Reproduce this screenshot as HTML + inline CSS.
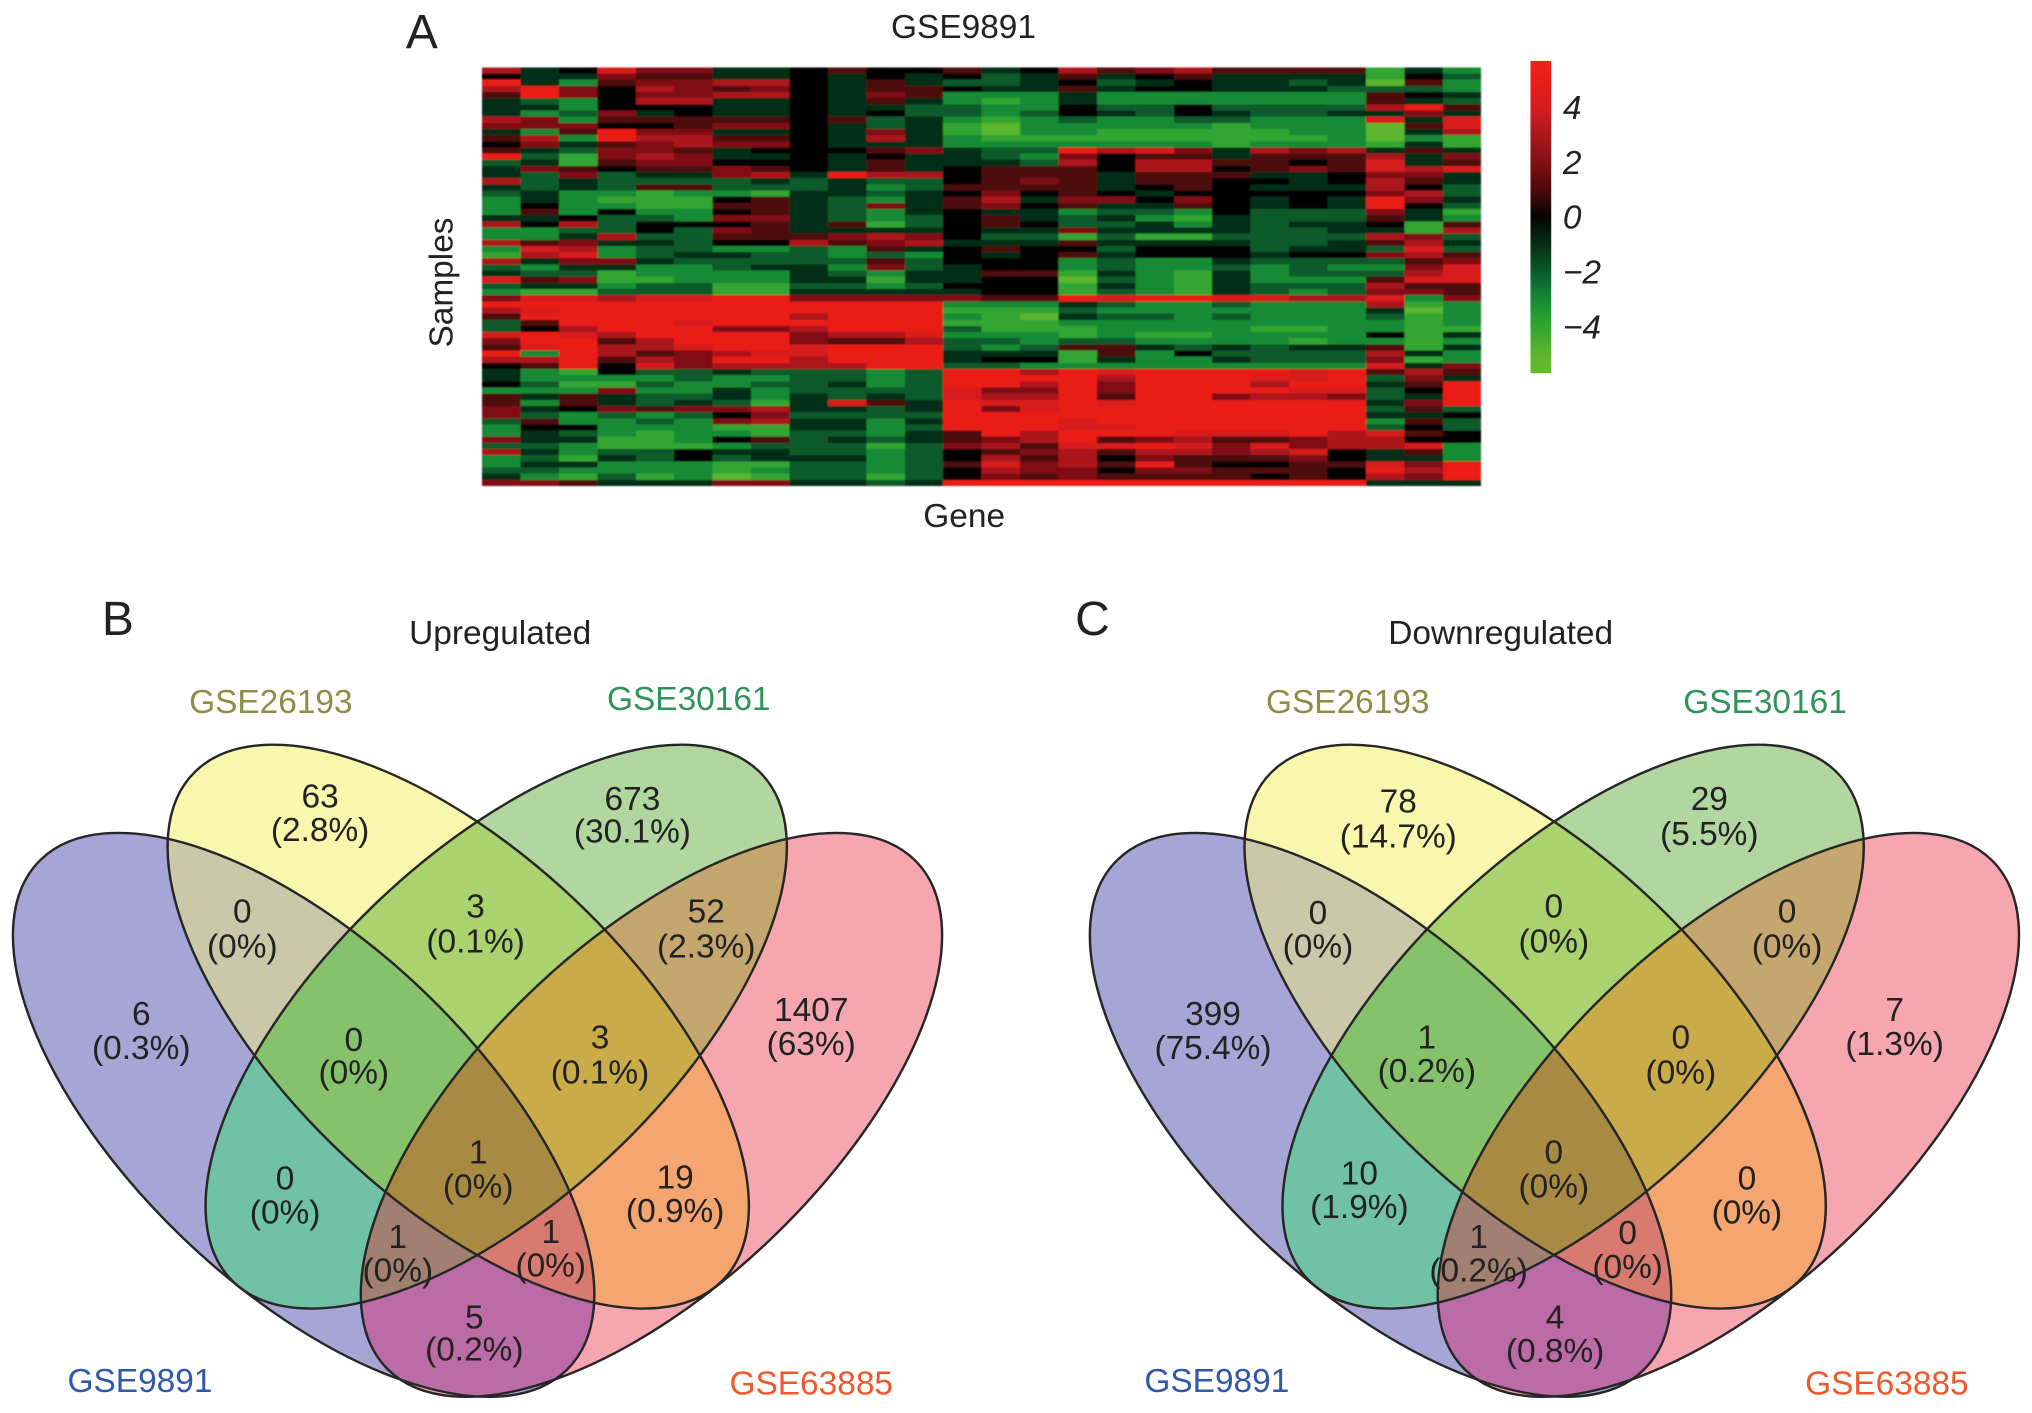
<!DOCTYPE html>
<html lang="en">
<head>
<meta charset="utf-8">
<title>GSE9891 heatmap and Venn diagrams</title>
<style>
html,body{margin:0;padding:0;background:#fff;width:2032px;height:1413px;overflow:hidden;}
svg{display:block;position:absolute;left:0;top:0;overflow:hidden;}
text{font-family:"Liberation Sans",Arial,sans-serif;}
</style>
</head>
<body>
<svg id="figure" xmlns="http://www.w3.org/2000/svg" width="2032" height="1413" viewBox="0 0 1568 1090.33">
<defs>
  <filter id="soften" x="-2%" y="-2%" width="104%" height="104%"><feGaussianBlur stdDeviation="0.55"/></filter>
  <path id="e-blue" transform="scale(1,0.97)" d="M31.36 683.97A287 135 45 1 1 437.24 1089.85A287 135 45 1 1 31.36 683.97Z"/>
  <path id="e-yellow" transform="scale(1,0.97)" d="M150.66 613.76A287 135 45 1 1 556.54 1019.64A287 135 45 1 1 150.66 613.76Z"/>
  <path id="e-green" transform="scale(1,0.97)" d="M179.96 1019.64A287 135 -45 1 1 585.84 613.76A287 135 -45 1 1 179.96 1019.64Z"/>
  <path id="e-red" transform="scale(1,0.97)" d="M299.76 1089.85A287 135 -45 1 1 705.64 683.97A287 135 -45 1 1 299.76 1089.85Z"/>
  <clipPath id="c-b"><use href="#e-blue"/></clipPath>
  <clipPath id="c-y"><use href="#e-yellow"/></clipPath>
  <clipPath id="c-g"><use href="#e-green"/></clipPath>
  <clipPath id="c-by" clip-path="url(#c-b)"><use href="#e-yellow"/></clipPath>
  <clipPath id="c-bg" clip-path="url(#c-b)"><use href="#e-green"/></clipPath>
  <clipPath id="c-yg" clip-path="url(#c-y)"><use href="#e-green"/></clipPath>
  <clipPath id="c-byg" clip-path="url(#c-by)"><use href="#e-green"/></clipPath>
  <g id="venn-shapes">
    <use href="#e-blue" fill="#a6a6d6"/>
    <use href="#e-yellow" fill="#f9f6ad"/>
    <use href="#e-green" fill="#b2d6a0"/>
    <use href="#e-red" fill="#f5a6ae"/>
    <use href="#e-yellow" fill="#cbc8aa" clip-path="url(#c-b)"/>
    <use href="#e-green" fill="#70c1a5" clip-path="url(#c-b)"/>
    <use href="#e-red" fill="#bb6ba6" clip-path="url(#c-b)"/>
    <use href="#e-green" fill="#aad26f" clip-path="url(#c-y)"/>
    <use href="#e-red" fill="#f4a570" clip-path="url(#c-y)"/>
    <use href="#e-red" fill="#c5a66e" clip-path="url(#c-g)"/>
    <use href="#e-green" fill="#86c16b" clip-path="url(#c-by)"/>
    <use href="#e-red" fill="#d87a70" clip-path="url(#c-by)"/>
    <use href="#e-red" fill="#a18071" clip-path="url(#c-bg)"/>
    <use href="#e-red" fill="#c9ab4a" clip-path="url(#c-yg)"/>
    <use href="#e-red" fill="#a98a43" clip-path="url(#c-byg)"/>
    <g fill="none" stroke="#262626" stroke-width="1.9">
      <use href="#e-blue"/><use href="#e-yellow"/><use href="#e-green"/><use href="#e-red"/>
    </g>
  </g>
</defs>

<!-- Panel A -->
<g id="panel-a" fill="#222">
  <text x="325.5" y="37" font-size="37" text-anchor="middle">A</text>
  <text x="743.5" y="29.5" font-size="25.8" text-anchor="middle">GSE9891</text>
  <text x="744" y="406.5" font-size="25.8" text-anchor="middle">Gene</text>
  <text transform="translate(349,218) rotate(-90)" font-size="25.8" text-anchor="middle">Samples</text>
  <g id="heatmap-cells" filter="url(#soften)"></g>
  <g id="colorbar"></g>
</g>

<!-- Panel B -->
<g id="panel-b">
  <use href="#venn-shapes"/>
  <g fill="#222" text-anchor="middle" font-size="25.8" transform="translate(0,9)">
    <text x="91" y="481" font-size="37">B</text>
    <text x="386" y="488">Upregulated</text>
    <text x="209" y="541" fill="#8b8f45">GSE26193</text>
    <text x="531.5" y="539" fill="#2e9358">GSE30161</text>
    <text x="108" y="1065" fill="#3058a8">GSE9891</text>
    <text x="626" y="1067" fill="#f0582c">GSE63885</text>
    <g><text x="247" y="614">63</text><text x="247" y="640">(2.8%)</text></g>
    <g><text x="488" y="616">673</text><text x="488" y="641">(30.1%)</text></g>
    <g><text x="187" y="703">0</text><text x="187" y="730">(0%)</text></g>
    <g><text x="367" y="699">3</text><text x="367" y="726">(0.1%)</text></g>
    <g><text x="545" y="703">52</text><text x="545" y="730">(2.3%)</text></g>
    <g><text x="109" y="782">6</text><text x="109" y="808">(0.3%)</text></g>
    <g><text x="273" y="802">0</text><text x="273" y="827">(0%)</text></g>
    <g><text x="463" y="800">3</text><text x="463" y="827">(0.1%)</text></g>
    <g><text x="626" y="779">1407</text><text x="626" y="805">(63%)</text></g>
    <g><text x="369" y="889">1</text><text x="369" y="915">(0%)</text></g>
    <g><text x="220" y="909">0</text><text x="220" y="935">(0%)</text></g>
    <g><text x="521" y="908">19</text><text x="521" y="934">(0.9%)</text></g>
    <g><text x="307" y="954">1</text><text x="307" y="980">(0%)</text></g>
    <g><text x="425" y="950">1</text><text x="425" y="976">(0%)</text></g>
    <g><text x="366" y="1016">5</text><text x="366" y="1041">(0.2%)</text></g>
  </g>
</g>

<!-- Panel C -->
<g id="panel-c">
  <use href="#venn-shapes" transform="translate(831,0)"/>
  <g fill="#222" text-anchor="middle" font-size="25.8" transform="translate(0,9)">
    <text x="843" y="481" font-size="37">C</text>
    <text x="1158" y="488">Downregulated</text>
    <text x="1040" y="541" fill="#8b8f45">GSE26193</text>
    <text x="1362" y="541" fill="#2e9358">GSE30161</text>
    <text x="939" y="1065" fill="#3058a8">GSE9891</text>
    <text x="1456" y="1067" fill="#f0582c">GSE63885</text>
    <g><text x="1079" y="618">78</text><text x="1079" y="645">(14.7%)</text></g>
    <g><text x="1319" y="616">29</text><text x="1319" y="643">(5.5%)</text></g>
    <g><text x="1017" y="704">0</text><text x="1017" y="730">(0%)</text></g>
    <g><text x="1199" y="699">0</text><text x="1199" y="726">(0%)</text></g>
    <g><text x="1379" y="703">0</text><text x="1379" y="730">(0%)</text></g>
    <g><text x="936" y="782">399</text><text x="936" y="808">(75.4%)</text></g>
    <g><text x="1101" y="800">1</text><text x="1101" y="826">(0.2%)</text></g>
    <g><text x="1297" y="800">0</text><text x="1297" y="827">(0%)</text></g>
    <g><text x="1462" y="779">7</text><text x="1462" y="805">(1.3%)</text></g>
    <g><text x="1199" y="889">0</text><text x="1199" y="915">(0%)</text></g>
    <g><text x="1049" y="905">10</text><text x="1049" y="931">(1.9%)</text></g>
    <g><text x="1348" y="909">0</text><text x="1348" y="935">(0%)</text></g>
    <g><text x="1141" y="954">1</text><text x="1141" y="980">(0.2%)</text></g>
    <g><text x="1256" y="951">0</text><text x="1256" y="977">(0%)</text></g>
    <g><text x="1200" y="1016">4</text><text x="1200" y="1042">(0.8%)</text></g>
  </g>
</g>
</svg>

<script>
// Heatmap values: one array per row, 26 columns each.
const heatmapValues = [
[3,-1,0,4,2,2,-1,-1,0,1,0,0,1,-1,0,3,1,2,3,1,1,1,1,-4,-1,-3],
[0,-1,-1,2,1,1,-1,-1,0,-1,0,-1,0,-2,-1,1,-1,0,1,-1,-1,-1,-1,-4,0,-2],
[5,-1,-3,1,2,2,3,3,0,-1,1,-1,-2,-2,-1,0,-2,-1,0,-1,-1,-2,-1,-5,1,-3],
[3,5,2,0,3,2,1,2,0,-1,1,1,0,-1,-1,1,-1,0,0,-1,-1,-1,-2,-2,-2,-3],
[1,5,2,0,2,2,3,3,0,-1,2,1,-3,-3,-3,-1,-3,-3,-3,-3,-3,-3,-3,1,0,-1],
[-1,-2,-3,0,3,3,-1,-1,0,-1,1,-1,-3,-4,-3,-1,-3,-3,-3,-3,-3,-3,-3,1,-1,-2],
[-1,-1,-3,0,0,0,-1,-1,0,-1,-1,-2,-2,-3,-3,0,-2,-2,0,-2,-2,-2,-2,3,5,1],
[-1,-3,-2,2,-1,0,-1,-1,0,-1,0,-2,-2,-3,-2,0,-1,-2,0,-1,-2,-2,-1,-1,2,-1],
[3,2,-3,1,1,1,1,1,0,1,-2,-1,-3,-4,-3,-2,-3,-3,-2,-2,-3,-3,-3,4,-1,4],
[2,2,2,0,0,1,2,2,0,-1,-2,-1,-4,-5,-3,-3,-3,-3,-3,-4,-3,-3,-3,-5,1,4],
[-1,-3,1,5,2,2,-1,-1,0,-1,2,-1,-4,-5,-3,-3,-4,-4,-4,-4,-4,-3,-3,-5,-1,3],
[1,3,-3,5,3,3,1,1,0,-1,3,-1,-3,-4,-4,-4,-4,-4,-4,-4,-4,-4,-3,-5,-3,-4],
[0,2,-1,1,2,3,2,2,0,-1,-1,-1,-3,-3,-3,-3,-3,-3,-3,-4,-3,-3,-3,-4,-1,-4],
[1,-1,-2,2,2,1,-1,0,0,0,1,2,-1,-2,-2,5,3,4,2,-1,3,2,3,-1,1,-1],
[5,-2,-4,2,3,2,-1,-1,0,-1,0,-1,-1,-2,-3,2,0,1,1,-1,1,1,1,3,-1,2],
[-2,-1,-4,1,2,2,0,0,0,-1,1,-1,-1,-1,-2,3,0,3,3,1,1,0,1,4,-1,1],
[-1,2,1,0,1,1,2,1,0,-1,1,-1,0,1,1,1,0,3,3,0,1,2,1,4,3,4],
[-1,-2,2,-2,-1,-1,2,3,-1,5,3,3,0,1,1,1,-1,1,1,1,-1,-1,0,2,2,-1],
[3,-2,-1,-2,-2,-2,-2,-1,-2,-1,-2,-2,0,1,2,1,-1,1,1,0,0,-1,0,3,1,-1],
[-1,-2,-1,-2,1,1,-2,-2,-2,-1,-3,-2,1,1,1,1,-1,0,1,0,-1,-1,-1,3,0,-2],
[-2,-1,-3,-3,-4,-3,-3,-4,-1,-1,-2,-1,0,2,0,1,0,-1,0,0,0,0,0,2,3,-2],
[-3,-1,-3,-4,-4,-4,0,1,-1,-2,-3,-1,1,3,-1,2,2,0,2,0,-1,0,-1,5,2,-1],
[-3,0,-3,-3,-4,-4,1,1,-1,-2,2,-1,1,2,0,1,-1,-1,1,0,-1,0,-1,5,0,-2],
[-3,1,-3,0,-3,-3,0,1,-1,-2,-3,-1,0,-1,-1,-3,-2,-2,-3,0,-2,-2,-2,2,-1,-4],
[-1,-1,0,-2,-2,-3,2,2,-1,-2,-3,-2,0,1,-1,-2,-1,-3,-4,-1,-2,-2,-2,1,-1,-3],
[3,0,3,-2,0,0,0,1,-1,1,-4,-2,0,1,0,-2,-2,-1,-3,-1,-2,-1,-1,0,-4,1],
[-3,-3,-2,-2,0,-2,2,1,-1,-1,-1,-1,0,-1,-1,2,-1,-1,-1,-1,-2,-2,-1,-1,-4,3],
[-3,-3,-1,3,-2,-2,1,1,1,2,3,2,0,-2,-2,-4,-2,-4,-4,-2,-2,-2,-2,3,2,-2],
[3,1,2,-1,-1,-2,0,0,3,1,2,3,-1,-1,-1,1,-1,-1,-1,-1,-2,-2,-1,1,3,-1],
[-3,4,3,-3,-2,-2,-3,-3,-2,-3,1,-1,0,1,0,0,-2,0,0,0,-2,-1,-1,-2,4,-2],
[-4,3,4,-3,-2,-1,-1,-2,-2,-3,-2,-3,0,-1,0,1,-1,0,0,0,-1,0,0,2,3,1],
[3,-1,2,2,-1,-2,-2,-2,-2,-2,1,-2,0,0,0,-3,-2,-3,-3,-1,-2,-2,-2,-2,1,2],
[-2,-3,-1,-1,-3,-3,-2,-1,-1,-3,2,-2,-1,0,0,-3,-2,-3,-3,-2,-3,-2,-3,-3,2,4],
[-1,-2,-2,-4,-3,-3,-3,-3,-1,-2,-3,-1,-1,1,1,-4,-1,-3,-4,-1,-3,-2,-2,-2,3,4],
[4,1,2,-4,-4,-3,-3,-3,-1,-1,-4,-1,-1,0,0,-5,-2,-3,-4,-1,-3,-3,-3,1,4,4],
[-2,-1,-1,-3,-2,-2,-4,-4,-2,-2,-3,-2,0,0,0,-4,-1,-3,-4,-1,-2,-2,-2,3,1,1],
[-3,-4,-4,-2,-2,-2,-4,-4,-1,-1,-1,-1,-1,0,0,-4,-2,-3,-4,-1,-2,-3,-2,2,2,1],
[2,4,4,3,4,4,5,5,2,2,2,2,2,1,1,5,4,5,5,4,4,3,3,4,-3,2],
[5,5,5,5,5,5,5,5,5,5,5,5,-3,-3,-3,-1,-2,-3,-3,-2,-3,-3,-3,3,-4,-3],
[3,4,5,5,5,5,5,5,5,5,5,5,-4,-4,-4,-2,-3,-3,-3,-3,-3,-3,-3,-1,-5,-3],
[1,5,5,5,5,5,5,5,3,5,5,5,-3,-4,-5,-1,-2,-2,-3,-2,-3,-3,-3,-2,-4,-3],
[-2,1,5,5,5,4,5,5,5,5,5,5,-4,-4,-4,-3,-3,-3,-3,-3,-3,-3,-3,-3,-4,-3],
[-2,0,3,5,5,5,2,2,3,5,5,5,-2,-4,-4,-4,-3,-3,-3,-3,-4,-4,-3,-3,-4,-4],
[4,5,4,3,5,5,5,5,2,3,3,4,-3,-3,-3,-4,-3,-4,-4,-3,-3,-3,-3,0,-4,-1],
[2,5,5,1,3,5,5,5,2,1,1,3,-2,-2,-3,-2,-2,-3,-3,-3,-3,-4,-3,-3,-4,-3],
[1,4,5,3,3,4,5,5,4,5,5,5,-2,-3,-2,1,1,-1,-2,-1,-2,-1,-1,1,-4,-1],
[5,-3,5,3,1,2,3,4,4,5,5,5,-1,-1,-1,-4,1,-3,0,-2,-2,-2,-2,3,-1,-3],
[3,3,5,1,3,2,5,5,3,5,5,5,-1,0,0,-4,-1,-3,-3,-1,-2,-2,-2,2,-4,-3],
[0,1,5,0,4,2,3,3,3,3,5,5,-2,-2,-3,-3,-3,-3,-3,-3,-3,-3,-3,4,-1,2],
[-1,-3,-4,0,-2,-2,-1,-2,-2,-2,-3,-2,5,5,3,5,4,5,5,5,5,4,5,1,3,1],
[-1,-3,-3,-3,-3,-2,-3,-3,-2,-2,-3,-2,5,5,5,5,3,5,5,5,4,4,5,-2,2,-1],
[0,-2,-4,-4,-2,-3,-3,-2,-2,-1,-3,-2,5,5,3,5,2,5,5,5,3,5,5,-1,1,5],
[-3,-3,-3,2,-3,-3,-1,-3,-2,-2,-2,-2,4,2,2,5,2,5,5,5,5,4,4,-2,0,5],
[1,-1,1,-1,-2,-2,-1,-3,-1,-2,-1,-2,4,3,3,5,1,5,5,2,3,3,2,-2,-1,5],
[1,-3,1,-1,-2,-1,-2,-4,-1,4,1,-1,5,4,4,5,4,5,5,5,5,5,5,-1,2,5],
[2,-1,0,2,1,2,2,3,-1,-1,-2,-1,5,2,4,5,5,5,5,5,5,5,5,-2,1,-2],
[2,-2,-3,-2,-3,-2,0,2,-2,-2,-2,-2,5,5,5,5,5,5,5,5,5,5,5,-1,-1,0],
[-2,1,-3,-3,-2,-3,2,3,-1,-1,-3,-1,5,5,5,4,5,5,5,5,5,5,5,-3,1,-2],
[-3,0,0,-3,-3,-3,-4,-4,-1,-1,-3,-2,5,5,5,4,4,5,5,5,5,5,5,-2,0,-2],
[-3,-1,-2,-3,-4,-3,-3,-4,-2,-2,-3,-1,1,5,3,5,5,5,4,4,4,5,3,4,1,0],
[2,-1,-1,-4,-4,-3,0,1,-2,-1,-2,-1,1,2,3,5,1,2,3,1,1,2,3,3,0,0],
[-2,-2,-3,-4,-4,-4,-3,-2,-2,-2,-4,-2,2,3,1,4,4,5,4,2,4,2,3,3,4,-3],
[3,-1,-3,-2,-2,0,-1,-1,-2,-2,-3,-2,0,1,2,3,1,3,3,2,3,4,0,-1,1,-3],
[-3,-2,-4,-1,-2,0,-2,-1,-1,-1,-3,-2,0,3,1,3,0,2,1,1,1,2,0,-1,-1,-3],
[-3,-1,-1,-3,-3,-3,-4,-4,-2,-2,-3,-2,1,4,2,3,1,5,1,0,0,1,1,4,2,5],
[-2,-2,-3,-3,-3,-3,-4,-3,-2,-2,-3,-2,0,3,2,2,0,2,2,1,1,1,0,5,3,5],
[-1,-3,-4,-2,-4,-3,-5,-4,-2,-2,-4,-2,0,2,1,2,1,1,1,1,0,1,0,3,2,5],
[2,2,1,-1,-1,-1,2,2,-1,-1,-2,-1,5,5,5,5,5,5,5,5,5,5,5,-1,-1,-1]
];
const colorbarTicks = [4, 2, 0, -2, -4];
const colorbarRange = [-5.7, 5.7];

const SVG_NS = 'http://www.w3.org/2000/svg';
const heatLeft = 372, heatRight = 1143, heatTop = 52, heatBottom = 375;
const barLeft = 1181, barRight = 1197, barTop = 47, barBottom = 288;

function xScale(col) {
  return heatLeft + (heatRight - heatLeft) * col / heatmapValues[0].length;
}
function yScale(row) {
  return heatTop + (heatBottom - heatTop) * row / heatmapValues.length;
}
function barScale(value) {
  return barTop + (barBottom - barTop) * (colorbarRange[1] - value) / (colorbarRange[1] - colorbarRange[0]);
}
function colorScale(value) {
  const stops = [
    [-5.7, 98, 186, 46], [-5, 92, 182, 46], [-4, 50, 165, 48], [-3, 22, 138, 52], [-2, 10, 90, 42], [-1, 6, 46, 22],
    [0, 4, 4, 4], [1, 78, 8, 10], [2, 128, 16, 20], [3, 170, 24, 30], [4, 214, 28, 30], [5, 234, 30, 24], [5.7, 236, 34, 24]
  ];
  const v = Math.max(-5.7, Math.min(5.7, value));
  for (let i = 1; i < stops.length; i++) {
    if (v <= stops[i][0]) {
      const a = stops[i - 1], b = stops[i];
      const t = (v - a[0]) / (b[0] - a[0]);
      return 'rgb(' + [1, 2, 3].map(function (k) { return Math.round(a[k] + (b[k] - a[k]) * t); }).join(',') + ')';
    }
  }
  return 'rgb(236,34,24)';
}

const cellLayer = document.getElementById('heatmap-cells');
heatmapValues.forEach(function (rowValues, r) {
  rowValues.forEach(function (value, c) {
    const cell = document.createElementNS(SVG_NS, 'rect');
    
    
    cell.setAttribute('x', xScale(c));
    cell.setAttribute('y', yScale(r));
    cell.setAttribute('width', xScale(c + 1) - xScale(c));
    cell.setAttribute('height', yScale(r + 1) - yScale(r));
    cell.setAttribute('fill', colorScale(value));
    cell.setAttribute('shape-rendering', 'crispEdges');
    cellLayer.appendChild(cell);
  });
});

const barLayer = document.getElementById('colorbar');
const gradient = document.createElementNS(SVG_NS, 'linearGradient');
gradient.setAttribute('id', 'colorbar-gradient');
gradient.setAttribute('x1', '0');
gradient.setAttribute('y1', '0');
gradient.setAttribute('x2', '0');
gradient.setAttribute('y2', '1');
for (let i = 0; i <= 44; i++) {
  const stopValue = colorbarRange[1] - (colorbarRange[1] - colorbarRange[0]) * i / 44;
  const stop = document.createElementNS(SVG_NS, 'stop');
  stop.setAttribute('offset', (i / 44).toFixed(4));
  stop.setAttribute('stop-color', colorScale(stopValue));
  gradient.appendChild(stop);
}
barLayer.appendChild(gradient);

const barRect = document.createElementNS(SVG_NS, 'rect');


barRect.setAttribute('x', barLeft);
barRect.setAttribute('y', barScale(colorbarRange[1]));
barRect.setAttribute('width', barRight - barLeft);
barRect.setAttribute('height', barScale(colorbarRange[0]) - barScale(colorbarRange[1]));
barRect.setAttribute('fill', 'url(#colorbar-gradient)');
barLayer.appendChild(barRect);

colorbarTicks.forEach(function (tick) {
  const label = document.createElementNS(SVG_NS, 'text');
  
  
  label.setAttribute('x', 1206);
  label.setAttribute('y', barScale(tick) + 9);
  label.setAttribute('font-size', '25.8');
  label.setAttribute('font-style', 'italic');
  label.textContent = String(tick).replace('-', '\u2212');
  barLayer.appendChild(label);
});
</script>
</body>
</html>
